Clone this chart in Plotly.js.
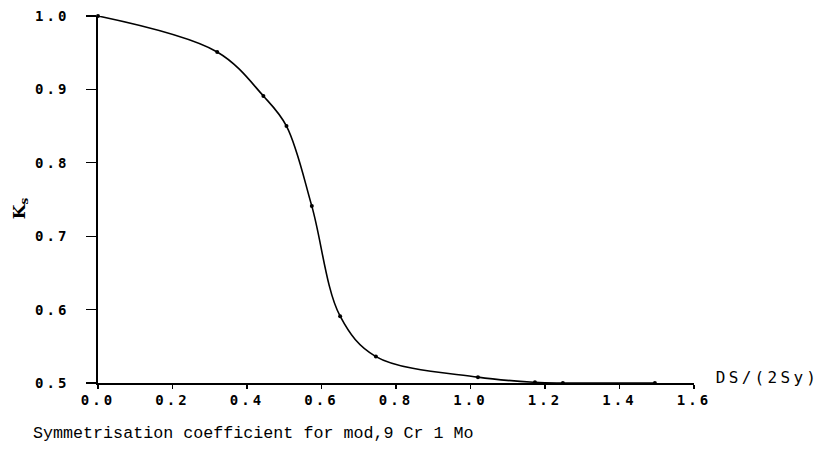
<!DOCTYPE html>
<html>
<head>
<meta charset="utf-8">
<script src="https://cdn.plot.ly/plotly-3.0.1.min.js"></script>
<style>
html,body{margin:0;padding:0;background:#fff;}
#chart{width:822px;height:459px;}
</style>
</head>
<body>
<div id="chart"></div>
<script>
// Data
const ratioDS = [0.0, 0.32, 0.444, 0.506, 0.574, 0.650, 0.746, 1.020, 1.173, 1.248, 1.495];
const coeffKs = [1.0, 0.951, 0.891, 0.850, 0.741, 0.591, 0.536, 0.508, 0.501, 0.500, 0.500];
const xTickVals = [0, 0.2, 0.4, 0.6, 0.8, 1.0, 1.2, 1.4, 1.6];
const xTickText = ['0.0','0.2','0.4','0.6','0.8','1.0','1.2','1.4','1.6'];
const yTickVals = [0.5, 0.6, 0.7, 0.8, 0.9, 1.0];
const yTickText = ['0.5','0.6','0.7','0.8','0.9','1.0'];

const tickFont = {family: 'DejaVu Sans Mono', size: 14, color: '#000', weight: 'bold'};

const trace = {
  x: ratioDS, y: coeffKs, type: 'scatter', mode: 'lines+markers',
  line: {color: '#000', width: 1.6, shape: 'spline', smoothing: 1},
  marker: {color: '#000', size: 4},
  cliponaxis: false, hoverinfo: 'skip'
};

const layout = {
  width: 822, height: 459,
  margin: {l: 98, r: 128, t: 16, b: 76},
  paper_bgcolor: '#fff', plot_bgcolor: '#fff',
  showlegend: false,
  xaxis: {
    range: [0, 1.6], showgrid: false, zeroline: false,
    showline: true, linecolor: '#000', linewidth: 1.5,
    ticks: 'outside', ticklen: 4, tickwidth: 1.2, tickcolor: '#000',
    tickvals: xTickVals, ticktext: xTickText, tickfont: tickFont,
    ticklabelstandoff: 0
  },
  yaxis: {
    range: [0.5, 1.0], showgrid: false, zeroline: false,
    showline: true, linecolor: '#000', linewidth: 1.8,
    ticks: 'outside', ticklen: 10, tickwidth: 1.2, tickcolor: '#000',
    tickvals: yTickVals, ticktext: yTickText, tickfont: tickFont,
    ticklabelstandoff: 14
  },
  annotations: [
    {text: 'DS/(2Sy)', xref: 'paper', yref: 'paper', x: 1.055, y: 0.015,
     xanchor: 'left', yanchor: 'middle', showarrow: false,
     font: {family: 'DejaVu Sans Mono', size: 16, color: '#000'}},
    {text: 'K<sub>s</sub>', xref: 'paper', yref: 'paper', x: -0.13, y: 0.475,
     xanchor: 'center', yanchor: 'middle', showarrow: false, textangle: -90,
     font: {family: 'DejaVu Serif', size: 17, color: '#000', weight: 'bold'}},
    {text: 'Symmetrisation coefficient for mod,9 Cr 1 Mo', xref: 'paper', yref: 'paper',
     x: -0.112, y: -0.138, xanchor: 'left', yanchor: 'middle', showarrow: false,
     font: {family: 'Liberation Mono', size: 16.7, color: '#000'}}
  ]
};

Plotly.newPlot('chart', [trace], layout, {displayModeBar: false, staticPlot: true}).then(function(gd){
  gd.querySelectorAll('.xtick text, .ytick text').forEach(function(t){ t.style.letterSpacing = '3px'; });
  const ann = gd.querySelectorAll('.annotation-text');
  if (ann[0]) ann[0].style.letterSpacing = '3.3px';
});
</script>
</body>
</html>
